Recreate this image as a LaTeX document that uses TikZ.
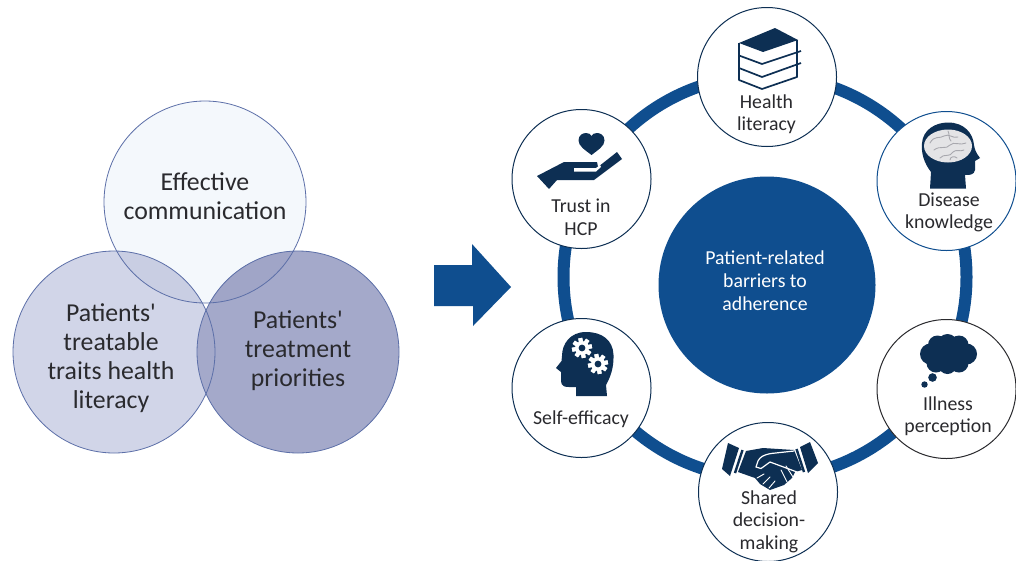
\documentclass[tikz,border=0pt]{standalone}
\usepackage{fontspec}
\setmainfont{Carlito}
\definecolor{ringblue}{HTML}{0F4E8F}
\definecolor{navy}{HTML}{0D2F53}
\definecolor{vennline}{HTML}{5C6FA8}
\definecolor{txt}{HTML}{2A2A2E}
\definecolor{vtop}{HTML}{F4F8FC}
\definecolor{vleft}{HTML}{D1D5E8}
\definecolor{vright}{HTML}{A4A9CA}
\definecolor{vtopleft}{HTML}{C9CEE3}
\definecolor{vtopright}{HTML}{A0A5C7}
\definecolor{brainfill}{HTML}{E4E4E6}
\definecolor{brainline}{HTML}{A8A8AE}
\tikzset{
  venn/.style={circle,minimum size=202pt,inner sep=0pt},
  vennring/.style={circle,minimum size=202pt,inner sep=0pt,draw=vennline,line width=0.8pt},
  vtext/.style={align=center,text=txt,font=\fontsize{25.8}{29}\selectfont},
  item/.style={circle,minimum size=139pt,inner sep=0pt,fill=white,draw=navy,line width=1pt},
  ltext/.style={align=center,text=txt,font=\fontsize{19.8}{22.5}\selectfont},
  cut/.style={draw=white,line cap=round,line join=round},
}
\newcommand{\gearicon}[2]{%
  \fill[white] (#1,#2) circle (7);
  \foreach \a in {0,45,...,315}{
    \fill[white,shift={(#1,#2)},rotate=\a+10] (-2,-10) rectangle (2,10);}
  \fill[navy] (#1,#2) circle (3.4);}
\begin{document}
\begin{tikzpicture}[x=1pt,y=-1pt]
\useasboundingbox (0,0) rectangle (1016,560);
\fill[white] (0,0) rectangle (1016,560);
% Venn
\node[venn,fill=vtop] at (205,202) {};
\node[venn,fill=vleft] at (114,352) {};
\node[venn,fill=vright] at (298,352) {};
\begin{scope}
\clip (205,202) circle (101);
\fill[vtopleft] (114,352) circle (101);
\fill[vtopright] (298,352) circle (101);
\end{scope}
\node[vennring] (comm) at (205,202) {};
\node[vennring] (traits) at (114,352) {};
\node[vennring] (prio) at (298,352) {};
\node[vtext] at (205,196) {Effective\\communication};
\node[vtext] at (111,358.5) {Patients\textquotesingle\\treatable\\traits health\\literacy};
\node[vtext] at (298,351) {Patients\textquotesingle\\treatment\\priorities};
% Arrow
\fill[ringblue] (434,265) -- (472,265) -- (472,244) -- (511,287) -- (473,326) -- (473,306) -- (434,306) -- cycle;
% Ring and centre
\node[circle,minimum size=403pt,inner sep=0pt,draw=ringblue,line width=12pt] (ring) at (765,277) {};
\node[circle,minimum size=217pt,inner sep=0pt,fill=ringblue] (core) at (767,285) {};
\node[align=center,text=white,font=\fontsize{19.8}{23}\selectfont] at (765,281) {Patient-related\\barriers to\\adherence};
% Item circles
\node[item] (health) at (767,77) {};
\node[item,draw=ringblue] (disease) at (946.5,181) {};
\node[item,draw=txt] (illness) at (946.5,389) {};
\node[item] (shared) at (768,492) {};
\node[item] (self) at (581.5,388) {};
\node[item] (trust) at (581.5,179) {};
\node[ltext] at (766.5,114) {Health\\literacy};
\node[ltext] at (949,212.5) {Disease\\knowledge};
\node[ltext] at (948,416) {Illness\\perception};
\node[ltext] at (769,521.5) {Shared\\decision-\\making};
\node[ltext] at (581,419) {Self-efficacy};
\node[ltext] at (581,217.5) {Trust in\\HCP};
% Books
\fill[navy] (739,43) -- (775,28) -- (798,40) -- (763,52) -- cycle;
\draw[navy,line width=1.7pt,line join=round] (739,43) -- (739,80) -- (762,89) -- (797,77) -- (797,40);
\draw[navy,line width=1.7pt] (739,55.5) -- (762,64) -- (801,51);
\draw[navy,line width=1.7pt] (739,68) -- (762,77) -- (801,63);
% Heart and hand
\fill[navy] (591.5,155) .. controls (585,150) and (578.5,146) .. (578.5,140.5)
  .. controls (578.5,135) and (583,133) .. (586,133) .. controls (588.5,133) and (590.5,134) .. (591.5,136)
  .. controls (592.5,134) and (594.5,133) .. (597,133) .. controls (600,133) and (604.5,135) .. (604.5,140.5)
  .. controls (604.5,146) and (598,150) .. (591.5,155) -- cycle;
\fill[navy] (537,176) -- (564,162) -- (597,162) -- (598,167) -- (617,152) -- (622,159) -- (594,180) -- (557,180) -- (549,189) -- cycle;
\fill[white] (574,168) -- (596,168) -- (600,165) -- (601,167) -- (596,171.5) -- (574,171.5) -- cycle;
% Head with brain
\fill[navy] (930,188.5) -- (931,172) .. controls (924,163) and (921,153) .. (922,143)
  .. controls (923,130) and (935,122.5) .. (948,122.5) .. controls (964,122.5) and (973,133) .. (974,145)
  .. controls (974.5,149) and (976,153) .. (980,158) -- (975,161) -- (975,170)
  .. controls (974,175) and (970,175) .. (965,175) -- (966,188.5) -- cycle;
\fill[brainfill] (948,146) ellipse (24 and 16.5);
\begin{scope}[draw=brainline,line width=0.9pt,line cap=round]
\draw (930,143) .. controls (934,135) and (940,139) .. (944,136) .. controls (949,133) and (953,139) .. (958,137);
\draw (934,150) .. controls (940,145) and (946,150) .. (950,145) .. controls (954,141) and (960,146) .. (966,143);
\draw (940,158) .. controls (944,153) and (950,158) .. (953,152) .. controls (956,149) and (960,152) .. (964,150);
\draw (950,160) .. controls (950,156) and (955,156) .. (957,158);
\draw (948,131) .. controls (950,135) and (948,138) .. (951,141);
\end{scope}
% Thought cloud
\fill[navy] (948.5,354) ellipse (24 and 16);
\fill[navy] (930.5,354) circle (10.5);
\fill[navy] (937.5,345) circle (9.5);
\fill[navy] (947.5,344) circle (10);
\fill[navy] (959,345) circle (9.5);
\fill[navy] (966.5,354) circle (10.5);
\fill[navy] (959,363) circle (9.5);
\fill[navy] (947.5,365) circle (9);
\fill[navy] (936,363) circle (9.5);
\fill[navy] (932.5,377.5) circle (4.3);
\fill[navy] (924.5,384.5) circle (3.2);
% Handshake
\fill[navy] (728,443) -- (739,448) -- (730,476) -- (722,469) -- cycle;
\draw[navy,line width=2.4pt] (742.5,450) -- (735,473);
\fill[navy] (810,442) -- (818,463) -- (808,473) -- (800,447) -- cycle;
\draw[navy,line width=2.4pt] (796.5,449) -- (804,472);
\fill[navy] (746,451) -- (763,448) -- (794,450) -- (802,470) -- (795,472) -- (792,478) -- (784,485) -- (770,490) -- (760,484) -- (755,478) -- (738,472) -- cycle;
\draw[cut,line width=1.2pt] (794,451) -- (771,453.5) .. controls (763,455) and (760,457) .. (758,461) -- (756,467) -- (761,468.5) -- (770,462) -- (797,472);
\draw[cut,line width=0.9pt] (786,466) -- (793,477);
\draw[cut,line width=0.9pt] (781,470) -- (787,482);
\draw[cut,line width=0.9pt] (757,478) -- (764,474);
\draw[cut,line width=0.9pt] (763,484) -- (770,477);
\draw[cut,line width=0.9pt] (769,488) -- (775,481);
% Head with gears
\fill[navy] (576,396) -- (607,396) -- (606,385) .. controls (610,378) and (614,368) .. (613.5,355)
  .. controls (613,340) and (602,332) .. (586,332) .. controls (570,332) and (562,344) .. (562,356)
  -- (561.5,361) -- (556,368) -- (561,372) -- (561,381) .. controls (561,386) and (565,387.5) .. (570,387) -- (576,387) -- cycle;
\gearicon{582}{348}
\gearicon{598}{364}
\end{tikzpicture}
\end{document}
